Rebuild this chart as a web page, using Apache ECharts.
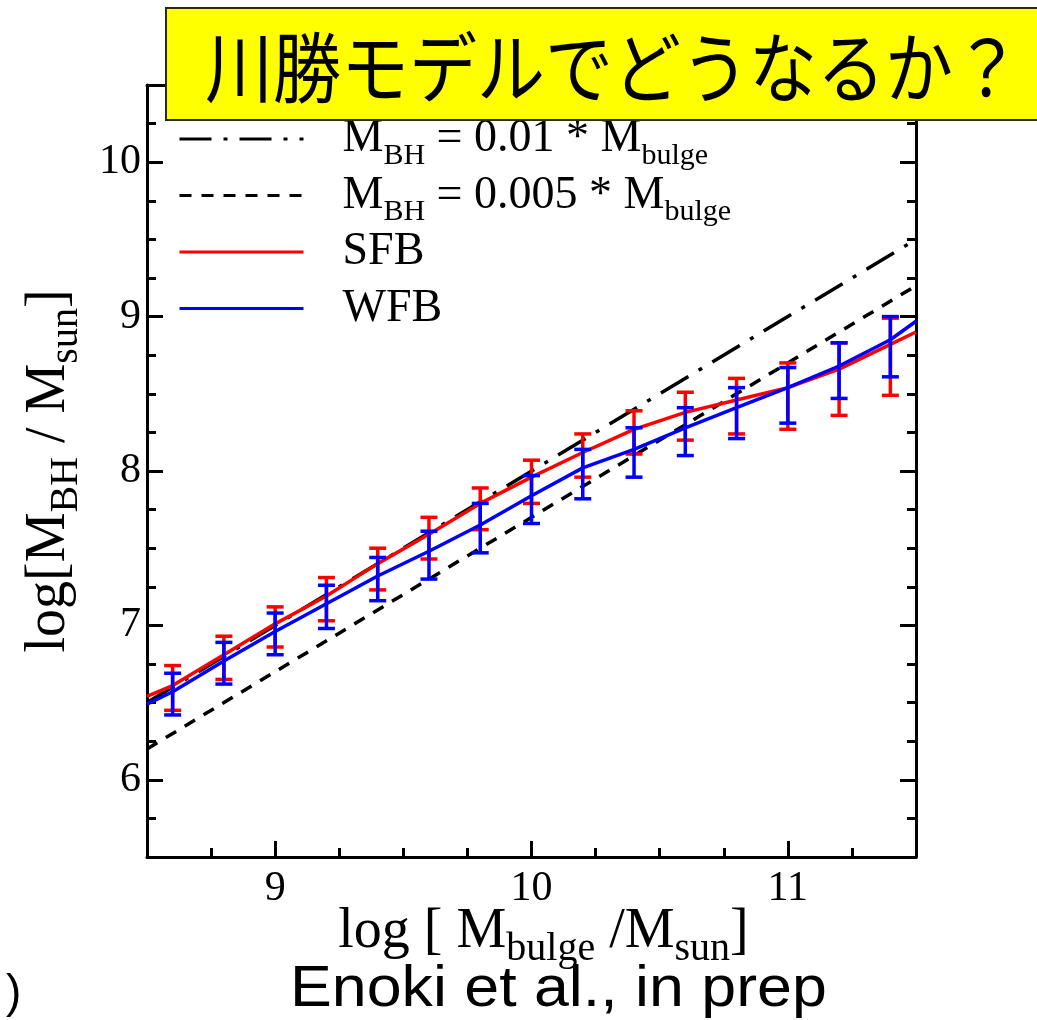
<!DOCTYPE html>
<html>
<head>
<meta charset="utf-8">
<script src="https://cdn.jsdelivr.net/npm/echarts@6/dist/echarts.min.js"></script>
<style>
  html, body { margin: 0; padding: 0; background: #ffffff; }
  #chart { width: 1037px; height: 1020px; }
</style>
</head>
<body>
<div id="chart"></div>
<script>
// log M_bulge bins (x) where the model statistics are evaluated
const bulgeMass = [8.6, 8.8, 9.0, 9.2, 9.4, 9.6, 9.8, 10.0, 10.2, 10.4, 10.6, 10.8, 11.0, 11.2, 11.4];

// SFB model: mean log M_BH and the lower / upper edges of the scatter
const sfbMean = [6.61, 6.81, 7.01, 7.19, 7.40, 7.59, 7.79, 7.96, 8.12, 8.27, 8.38, 8.46, 8.54, 8.66, 8.82];
const sfbLow  = [6.45, 6.65, 6.86, 7.03, 7.23, 7.43, 7.62, 7.79, 7.96, 8.11, 8.20, 8.24, 8.27, 8.36, 8.49];
const sfbHigh = [6.74, 6.93, 7.12, 7.31, 7.50, 7.70, 7.89, 8.07, 8.24, 8.39, 8.51, 8.60, 8.70, 8.83, 8.99];

// WFB model
const wfbMean = [6.57, 6.77, 6.96, 7.14, 7.32, 7.48, 7.65, 7.84, 8.02, 8.14, 8.28, 8.41, 8.54, 8.68, 8.85];
const wfbLow  = [6.42, 6.62, 6.81, 6.98, 7.16, 7.30, 7.47, 7.66, 7.82, 7.96, 8.10, 8.21, 8.31, 8.47, 8.61];
const wfbHigh = [6.69, 6.89, 7.08, 7.26, 7.44, 7.61, 7.79, 7.97, 8.14, 8.28, 8.41, 8.54, 8.67, 8.83, 9.00];

// model curves continue to the frame edges
const edgeMass = [8.5, 11.5];
const sfbEdge = [6.54, 8.90];
const wfbEdge = [6.49, 8.97];

// fixed-ratio relations M_BH = 0.01 M_bulge and M_BH = 0.005 M_bulge
const ratio001 = [6.5, 9.5];
const ratio0005 = [6.2, 9.2];

// axis ticks
const xMajorTicks = [9, 10, 11];
const yMajorTicks = [6, 7, 8, 9, 10];

const SERIF = "'Liberation Serif', 'Times New Roman', serif";
const SANS = "'Liberation Sans', Arial, sans-serif";
const CJK = "'Noto Sans CJK JP', 'Noto Sans CJK SC', sans-serif";

function withEdges(means, edge) {
  const pts = [[edgeMass[0], edge[0]]];
  bulgeMass.forEach((x, i) => pts.push([x, means[i]]));
  pts.push([edgeMass[1], edge[1]]);
  return pts;
}

function errorBars(color) {
  return function (params, api) {
    const x = api.value(0);
    const lo = api.coord([x, api.value(1)]);
    const hi = api.coord([x, api.value(2)]);
    const half = 8.5;
    const style = { stroke: color, lineWidth: 3.5 };
    return {
      type: 'group',
      children: [
        { type: 'line', shape: { x1: hi[0], y1: hi[1], x2: lo[0], y2: lo[1] }, style },
        { type: 'line', shape: { x1: hi[0] - half, y1: hi[1], x2: hi[0] + half, y2: hi[1] }, style },
        { type: 'line', shape: { x1: lo[0] - half, y1: lo[1], x2: lo[0] + half, y2: lo[1] }, style }
      ]
    };
  };
}

// rich-text styles: main text plus a subscript dropped below the baseline
// (equal top / negative bottom padding shifts it down without growing the line)
function subscriptRich(mainSize, subSize, drop) {
  return {
    m: { fontFamily: SERIF, fontSize: mainSize, lineHeight: mainSize, color: '#000', verticalAlign: 'middle' },
    s: { fontFamily: SERIF, fontSize: subSize, color: '#000', verticalAlign: 'middle', padding: [drop, 0, -drop, 0] }
  };
}

const tickStyle = { color: '#000', width: 3 };
const frameLine = { show: true, onZero: false, lineStyle: { color: '#000', width: 3 } };

function minorAxis(position, min, max) {
  return {
    type: 'value', position, min, max, interval: 0.25,
    axisLine: frameLine,
    axisTick: { show: true, inside: true, length: 9, lineStyle: tickStyle },
    axisLabel: { show: false },
    splitLine: { show: false }
  };
}
function majorAxis(position, min, max, ticks, withLabels) {
  return {
    type: 'value', position, min, max,
    axisLine: { show: false },
    axisTick: { show: true, inside: true, length: 16, customValues: ticks, lineStyle: tickStyle },
    axisLabel: withLabels
      ? { show: true, customValues: ticks, color: '#000', fontFamily: SERIF, fontSize: 42 }
      : { show: false },
    splitLine: { show: false }
  };
}

const xLabelAxis = majorAxis('bottom', 8.5, 11.5, xMajorTicks, true);
xLabelAxis.axisLabel.margin = 11;
xLabelAxis.name = '{m|log [ M}{s|bulge}{m| /M}{s|sun}{m|]}';
xLabelAxis.nameLocation = 'middle';
xLabelAxis.nameGap = 47;
xLabelAxis.nameMoveOverlap = false;
xLabelAxis.nameTextStyle = { padding: [0, 0, 0, 24], rich: subscriptRich(56, 40, 17) };

const yLabelAxis = majorAxis('left', 5.5, 10.5, yMajorTicks, true);
yLabelAxis.axisLabel.margin = 6;
yLabelAxis.name = '{m|log[M}{s|BH}{m| / M}{s|sun}{m|]}';
yLabelAxis.nameLocation = 'middle';
yLabelAxis.nameRotate = 90;
yLabelAxis.nameGap = 70;
yLabelAxis.nameMoveOverlap = false;
yLabelAxis.nameTextStyle = { rich: subscriptRich(56, 40, 17) };

// every entry ends with a subscript-style run so all rows share one height
const legendText = {
  'ratio001': '{m|M}{s|BH}{m| = 0.01 * M}{s|bulge}',
  'ratio0005': '{m|M}{s|BH}{m| = 0.005 * M}{s|bulge}',
  'SFB': '{m|SFB}{s| }',
  'WFB': '{m|WFB}{s| }'
};

const option = {
  animation: false,
  backgroundColor: '#ffffff',
  grid: { left: 147, right: 121, top: 85, bottom: 163, containLabel: false },
  xAxis: [
    minorAxis('bottom', 8.5, 11.5),
    xLabelAxis,
    minorAxis('top', 8.5, 11.5),
    majorAxis('top', 8.5, 11.5, xMajorTicks, false)
  ],
  yAxis: [
    minorAxis('left', 5.5, 10.5),
    yLabelAxis,
    minorAxis('right', 5.5, 10.5),
    majorAxis('right', 5.5, 10.5, yMajorTicks, false)
  ],
  legend: {
    orient: 'vertical',
    left: 178,
    top: 116,
    padding: 0,
    itemWidth: 124,
    itemHeight: 14,
    itemGap: 1.5,
    data: ['ratio001', 'ratio0005', 'SFB', 'WFB'],
    formatter: name => legendText[name],
    selectedMode: false,
    itemStyle: { opacity: 0 },
    lineStyle: { width: 3 },
    textStyle: {
      padding: [0, 0, 0, 34],
      rich: subscriptRich(46, 30, 17)
    }
  },
  series: [
    {
      name: 'ratio001', type: 'line', symbol: 'none', z: 3,
      data: edgeMass.map((x, i) => [x, ratio001[i]]),
      lineStyle: { color: '#000', width: 3.5, type: [32, 12, 4, 12] },
      itemStyle: { color: '#000' }
    },
    {
      name: 'ratio0005', type: 'line', symbol: 'none', z: 3,
      data: edgeMass.map((x, i) => [x, ratio0005[i]]),
      lineStyle: { color: '#000', width: 3.5, type: [12, 10] },
      itemStyle: { color: '#000' }
    },
    {
      name: 'SFB', type: 'line', symbol: 'none', z: 4,
      data: withEdges(sfbMean, sfbEdge),
      lineStyle: { color: '#ff0000', width: 3.5 },
      itemStyle: { color: '#ff0000' }
    },
    {
      name: 'SFB-range', type: 'custom', z: 4,
      renderItem: errorBars('#ff0000'),
      encode: { x: 0, y: [1, 2] },
      data: bulgeMass.map((x, i) => [x, sfbLow[i], sfbHigh[i]])
    },
    {
      name: 'WFB', type: 'line', symbol: 'none', z: 5,
      data: withEdges(wfbMean, wfbEdge),
      lineStyle: { color: '#0000ff', width: 3.5 },
      itemStyle: { color: '#0000ff' }
    },
    {
      name: 'WFB-range', type: 'custom', z: 5,
      renderItem: errorBars('#0000ff'),
      encode: { x: 0, y: [1, 2] },
      data: bulgeMass.map((x, i) => [x, wfbLow[i], wfbHigh[i]])
    }
  ],
  graphic: [
    {
      type: 'rect', z: 100,
      shape: { x: 166, y: 8, width: 890, height: 112 },
      style: { fill: '#ffff00', stroke: '#2b2b00', lineWidth: 2 }
    },
    {
      type: 'text', z: 101, x: 205, y: 68, scaleY: 1.13,
      style: { text: '川勝モデルでどうなるか？', font: '68px ' + CJK, fill: '#000', textVerticalAlign: 'middle' }
    },
    {
      type: 'text', z: 101, x: 290, y: 990, scaleX: 1.1,
      style: { text: 'Enoki et al., in prep', font: '57px ' + SANS, fill: '#000', textVerticalAlign: 'middle' }
    },
    {
      type: 'text', z: 101, x: 6, y: 994,
      style: { text: ')', font: '46px ' + SANS, fill: '#000', textVerticalAlign: 'middle' }
    }
  ]
};

const chart = echarts.init(document.getElementById('chart'), null, { renderer: 'canvas' });
chart.setOption(option);
</script>
</body>
</html>
